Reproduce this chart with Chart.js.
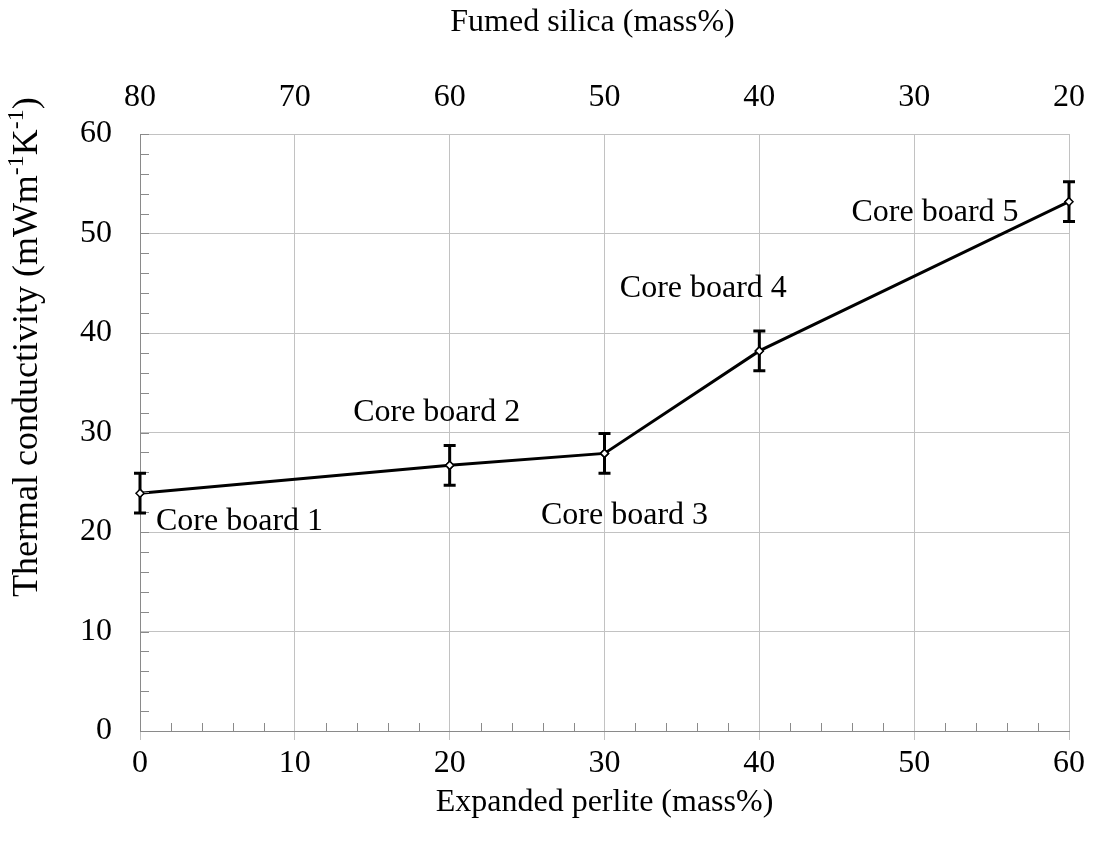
<!DOCTYPE html>
<html>
<head>
<meta charset="utf-8">
<script src="https://cdn.jsdelivr.net/npm/chart.js@4.4.1/dist/chart.umd.min.js"></script>
<style>
  html, body { margin: 0; padding: 0; background: #ffffff; }
  #wrap { width: 1094px; height: 852px; position: relative; }
</style>
</head>
<body>
<div id="wrap"><canvas id="chart"></canvas></div>
<script>
// Expanded perlite content of each core board (mass%)
const perliteContent = [0, 20, 30, 40, 60];
// Measured thermal conductivity (mW m^-1 K^-1) and its standard deviation
const conductivity = [23.9, 26.7, 27.9, 38.2, 53.2];
const conductivityError = [2.0, 2.0, 2.0, 2.0, 2.0];
// Board names written next to each point
const boardNames = ['Core board 1', 'Core board 2', 'Core board 3', 'Core board 4', 'Core board 5'];
// Axis ranges and tick steps
const perliteRange = [0, 60];
const silicaRange = [20, 80];
const conductivityRange = [0, 60];
const majorStep = 10;
const minorStep = 2;
// Y axis title, split into normal and superscript runs
const yTitleRuns = [['Thermal conductivity (mWm', false], ['-1', true], ['K', false], ['-1', true], [')', false]];

// Pixel offsets of each board name from its point, and text alignment
const nameOffsets = [[16, 28, 'left'], [-13, -53, 'center'], [20, 62, 'center'], [-56, -62, 'center'], [-134, 11, 'center']];

const FONT = "'Times New Roman', 'Liberation Serif', serif";
const FONT_SIZE = 32;
const GRID = '#c2c2c2';
const AXIS = '#8a8a8a';

// Error bars, minor tick marks and board names, all placed through the scales
const extras = {
  id: 'extras',
  afterDatasetsDraw(chart) {
    const ctx = chart.ctx;
    const xs = chart.scales.x, ys = chart.scales.y;
    const area = chart.chartArea;
    ctx.save();

    // minor ticks, drawn inside the plot area
    ctx.strokeStyle = AXIS;
    ctx.lineWidth = 1;
    ctx.beginPath();
    for (let v = perliteRange[0]; v <= perliteRange[1]; v += minorStep) {
      if (v % majorStep === 0) continue;
      const px = Math.round(xs.getPixelForValue(v)) + 0.5;
      ctx.moveTo(px, area.bottom);
      ctx.lineTo(px, area.bottom - 8);
    }
    for (let v = conductivityRange[0]; v <= conductivityRange[1]; v += minorStep) {
      const py = Math.round(ys.getPixelForValue(v)) + 0.5;
      ctx.moveTo(area.left, py);
      ctx.lineTo(area.left + 9, py);
    }
    ctx.stroke();

    // error bars
    ctx.strokeStyle = '#000000';
    ctx.lineWidth = 3;
    perliteContent.forEach((x, i) => {
      const px = xs.getPixelForValue(x);
      const top = ys.getPixelForValue(conductivity[i] + conductivityError[i]);
      const bot = ys.getPixelForValue(conductivity[i] - conductivityError[i]);
      ctx.beginPath();
      ctx.moveTo(px, top); ctx.lineTo(px, bot);
      ctx.moveTo(px - 6, top); ctx.lineTo(px + 6, top);
      ctx.moveTo(px - 6, bot); ctx.lineTo(px + 6, bot);
      ctx.stroke();
    });

    // board names
    ctx.fillStyle = '#000000';
    ctx.font = FONT_SIZE + 'px ' + FONT;
    ctx.textBaseline = 'middle';
    perliteContent.forEach((x, i) => {
      const [dx, dy, align] = nameOffsets[i];
      ctx.textAlign = align;
      ctx.fillText(boardNames[i], xs.getPixelForValue(x) + dx, ys.getPixelForValue(conductivity[i]) + dy);
    });
    ctx.restore();
  }
};

// Rotated y axis title with real superscripts
const yTitle = {
  id: 'yTitle',
  afterDraw(chart) {
    const ctx = chart.ctx;
    const big = 36, small = 24;
    ctx.save();
    ctx.translate(37, 597);
    ctx.rotate(-Math.PI / 2);
    ctx.fillStyle = '#000000';
    ctx.textAlign = 'left';
    ctx.textBaseline = 'alphabetic';
    let pos = 0;
    yTitleRuns.forEach(([txt, sup]) => {
      ctx.font = (sup ? small : big) + 'px ' + FONT;
      ctx.fillText(txt, pos, sup ? -14 : 0);
      pos += ctx.measureText(txt).width;
    });
    ctx.restore();
  }
};

// Redraw the markers on top of the error bars
const markersOnTop = {
  id: 'markersOnTop',
  afterDraw(chart) {
    const meta = chart.getDatasetMeta(0);
    const ctx = chart.ctx;
    ctx.save();
    meta.data.forEach(p => p.draw(ctx, chart.chartArea));
    ctx.restore();
  }
};

const points = perliteContent.map((x, i) => ({ x: x, y: conductivity[i] }));

new Chart(document.getElementById('chart'), {
  type: 'line',
  data: {
    datasets: [{
      data: points,
      borderColor: '#000000',
      borderWidth: 3,
      tension: 0,
      pointStyle: 'rectRot',
      pointRadius: 4,
      pointBackgroundColor: '#ffffff',
      pointBorderColor: '#000000',
      pointBorderWidth: 1.5,
      xAxisID: 'x',
      yAxisID: 'y'
    }]
  },
  options: {
    responsive: true,
    maintainAspectRatio: false,
    animation: false,
    layout: { padding: { left: 0, right: 24, top: 0, bottom: 0 } },
    plugins: { legend: { display: false }, tooltip: { enabled: false } },
    scales: {
      x: {
        type: 'linear',
        position: 'bottom',
        min: perliteRange[0],
        max: perliteRange[1],
        ticks: { stepSize: majorStep, color: '#000000', font: { family: FONT, size: FONT_SIZE }, padding: 4, maxRotation: 0 },
        grid: { color: GRID, lineWidth: 1, drawTicks: true, tickLength: 9, tickColor: GRID },
        border: { color: AXIS, width: 1 },
        title: { display: true, text: 'Expanded perlite (mass%)', color: '#000000', font: { family: FONT, size: FONT_SIZE }, padding: { top: 0, bottom: 30 } },
        afterFit(s) { s.height = 121; }
      },
      x2: {
        type: 'linear',
        position: 'top',
        reverse: true,
        min: silicaRange[0],
        max: silicaRange[1],
        ticks: { stepSize: majorStep, color: '#000000', font: { family: FONT, size: FONT_SIZE }, padding: 9, maxRotation: 0 },
        grid: { display: false, drawOnChartArea: false },
        border: { display: false },
        // trailing spaces nudge the centred title slightly to the left
        title: { display: true, text: 'Fumed silica (mass%)   ', color: '#000000', font: { family: FONT, size: FONT_SIZE }, padding: { top: 3, bottom: 0 } },
        afterFit(s) { s.height = 134; }
      },
      y: {
        type: 'linear',
        position: 'left',
        min: conductivityRange[0],
        max: conductivityRange[1],
        ticks: { stepSize: majorStep, color: '#000000', font: { family: FONT, size: FONT_SIZE }, padding: 28 },
        grid: { color: GRID, lineWidth: 1, drawTicks: false },
        border: { color: AXIS, width: 1 },
        title: { display: false },
        afterFit(s) { s.width = 140; }
      }
    }
  },
  plugins: [extras, yTitle, markersOnTop]
});
</script>
</body>
</html>
